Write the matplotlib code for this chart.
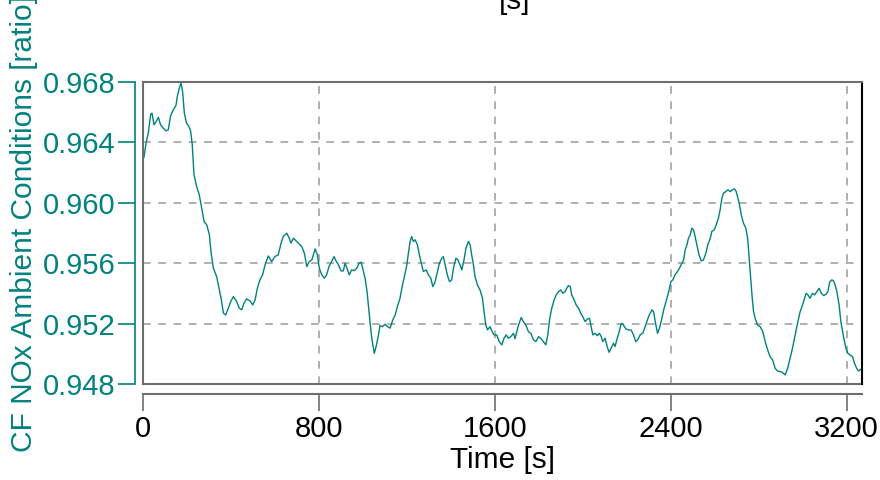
import numpy as np
import matplotlib
matplotlib.use('Agg')
import matplotlib.pyplot as plt

# time [s] and CF NOx ambient conditions
time_s = [4, 14, 24, 35, 41, 50, 62, 70, 80, 92, 105, 115, 126, 138, 150, 156, 165, 173,
          180, 188, 198, 209, 217, 224, 232, 244, 256, 267, 278, 290, 302, 309, 320, 335,
          346, 355, 366, 376, 388, 399, 411, 426, 438, 449, 459, 471, 487, 499, 510, 520,
          532, 544, 555, 570, 585, 600, 615, 628, 638, 654, 665, 673, 684, 695, 707, 722,
          734, 745, 756, 768, 783, 793, 802, 813, 825, 835, 846, 859, 869, 878, 889, 901,
          911, 919, 929, 938, 949, 961, 972, 983, 992, 999, 1010, 1019, 1028, 1037, 1043,
          1052, 1062, 1071, 1078, 1089, 1101, 1113, 1124, 1136, 1147, 1157, 1169, 1180,
          1189, 1200, 1207, 1215, 1222, 1230, 1238, 1248, 1257, 1268, 1275, 1288, 1298,
          1309, 1318, 1328, 1339, 1348, 1359, 1366, 1374, 1384, 1394, 1404, 1412, 1423,
          1432, 1442, 1450, 1460, 1469, 1480, 1488, 1495, 1503, 1510, 1521, 1533, 1544,
          1551, 1559, 1567, 1578, 1588, 1597, 1609, 1620, 1632, 1642, 1652, 1662, 1673,
          1685, 1692, 1708, 1720, 1730, 1741, 1753, 1764, 1776, 1787, 1799, 1809, 1821,
          1832, 1841, 1850, 1859, 1870, 1879, 1890, 1900, 1909, 1920, 1927, 1935, 1943,
          1950, 1961, 1970, 1981, 1991, 2000, 2011, 2022, 2031, 2038, 2046, 2056, 2067,
          2076, 2084, 2091, 2102, 2111, 2120, 2129, 2140, 2147, 2155, 2166, 2175, 2185,
          2196, 2208, 2220, 2231, 2241, 2250, 2261, 2273, 2284, 2294, 2303, 2315, 2322,
          2330, 2340, 2349, 2360, 2370, 2379, 2391, 2401, 2410, 2420, 2431, 2440, 2451,
          2459, 2466, 2474, 2481, 2489, 2496, 2504, 2511, 2519, 2529, 2539, 2549, 2560,
          2569, 2580, 2587, 2598, 2607, 2617, 2625, 2633, 2640, 2651, 2660, 2671, 2681,
          2690, 2698, 2706, 2713, 2721, 2731, 2742, 2750, 2757, 2765, 2771, 2777, 2784,
          2795, 2807, 2819, 2830, 2841, 2852, 2864, 2875, 2886, 2898, 2908, 2921, 2932,
          2943, 2954, 2966, 2977, 2989, 3000, 3009, 3016, 3024, 3034, 3045, 3054, 3065,
          3075, 3085, 3096, 3106, 3115, 3123, 3133, 3141, 3148, 3156, 3166, 3174, 3186,
          3197, 3206, 3216, 3227, 3236, 3246, 3254, 3262, 3270]
cf_nox = [0.96301, 0.96396, 0.96462, 0.96588, 0.96594, 0.96517, 0.96544, 0.96566, 0.96517,
          0.96495, 0.96477, 0.96484, 0.96579, 0.96617, 0.96645, 0.96705, 0.96760, 0.96793,
          0.96738, 0.96594, 0.96528, 0.96506, 0.96473, 0.96385, 0.96186, 0.96108, 0.96053,
          0.95965, 0.95876, 0.95854, 0.95788, 0.95677, 0.95567, 0.95512, 0.95434, 0.95368,
          0.95269, 0.95257, 0.95302, 0.95346, 0.95379, 0.95346, 0.95302, 0.95291, 0.95335,
          0.95364, 0.95350, 0.95324, 0.95357, 0.95434, 0.95490, 0.95523, 0.95589, 0.95648,
          0.95611, 0.95644, 0.95655, 0.95733, 0.95777, 0.95799, 0.95766, 0.95733, 0.95766,
          0.95750, 0.95733, 0.95711, 0.95666, 0.95578, 0.95611, 0.95622, 0.95695, 0.95655,
          0.95567, 0.95523, 0.95501, 0.95523, 0.95578, 0.95615, 0.95644, 0.95615, 0.95589,
          0.95549, 0.95549, 0.95600, 0.95562, 0.95523, 0.95556, 0.95551, 0.95567, 0.95600,
          0.95607, 0.95567, 0.95501, 0.95412, 0.95280, 0.95147, 0.95081, 0.95003, 0.95059,
          0.95125, 0.95187, 0.95180, 0.95196, 0.95180, 0.95170, 0.95224, 0.95258, 0.95313,
          0.95368, 0.95456, 0.95512, 0.95589, 0.95666, 0.95744, 0.95777, 0.95744, 0.95755,
          0.95722, 0.95655, 0.95589, 0.95545, 0.95556, 0.95523, 0.95501, 0.95445, 0.95474,
          0.95545, 0.95600, 0.95633, 0.95644, 0.95589, 0.95523, 0.95478, 0.95490, 0.95567,
          0.95633, 0.95622, 0.95589, 0.95556, 0.95622, 0.95700, 0.95744, 0.95722, 0.95655,
          0.95589, 0.95512, 0.95456, 0.95423, 0.95368, 0.95280, 0.95191, 0.95158, 0.95180,
          0.95147, 0.95125, 0.95125, 0.95081, 0.95059, 0.95103, 0.95125, 0.95103, 0.95114,
          0.95136, 0.95100, 0.95191, 0.95240, 0.95213, 0.95191, 0.95147, 0.95136, 0.95092,
          0.95081, 0.95114, 0.95103, 0.95081, 0.95059, 0.95125, 0.95235, 0.95302, 0.95357,
          0.95390, 0.95412, 0.95423, 0.95401, 0.95412, 0.95434, 0.95452, 0.95445, 0.95390,
          0.95357, 0.95324, 0.95302, 0.95269, 0.95246, 0.95213, 0.95231, 0.95235, 0.95180,
          0.95125, 0.95136, 0.95120, 0.95136, 0.95114, 0.95081, 0.95103, 0.95048, 0.95010,
          0.95037, 0.95070, 0.95048, 0.95092, 0.95147, 0.95202, 0.95191, 0.95165, 0.95158,
          0.95158, 0.95125, 0.95081, 0.95092, 0.95125, 0.95136, 0.95180, 0.95224, 0.95258,
          0.95291, 0.95280, 0.95213, 0.95136, 0.95169, 0.95235, 0.95302, 0.95346, 0.95412,
          0.95478, 0.95490, 0.95523, 0.95545, 0.95567, 0.95600, 0.95622, 0.95688, 0.95722,
          0.95766, 0.95788, 0.95832, 0.95821, 0.95777, 0.95722, 0.95655, 0.95615, 0.95622,
          0.95666, 0.95722, 0.95766, 0.95810, 0.95821, 0.95854, 0.95898, 0.95954, 0.96031,
          0.96064, 0.96075, 0.96086, 0.96075, 0.96086, 0.96093, 0.96075, 0.96031, 0.95987,
          0.95921, 0.95865, 0.95832, 0.95766, 0.95633, 0.95478, 0.95368, 0.95280, 0.95235,
          0.95191, 0.95180, 0.95147, 0.95081, 0.95026, 0.94981, 0.94959, 0.94904, 0.94886,
          0.94882, 0.94877, 0.94860, 0.94904, 0.94970, 0.95037, 0.95125, 0.95202, 0.95280,
          0.95324, 0.95368, 0.95401, 0.95390, 0.95368, 0.95401, 0.95390, 0.95412, 0.95434,
          0.95401, 0.95386, 0.95394, 0.95412, 0.95474, 0.95490, 0.95483, 0.95456, 0.95412,
          0.95324, 0.95213, 0.95114, 0.95037, 0.95003, 0.94992, 0.94981, 0.94937, 0.94904,
          0.94886, 0.94893, 0.94904]

x_ticks = [0, 800, 1600, 2400, 3200]
y_ticks = [0.948, 0.952, 0.956, 0.960, 0.964, 0.968]

teal = '#00827f'
frame_grey = '#6e6e6e'

plt.rcParams['font.family'] = ['Liberation Sans', 'DejaVu Sans']

fig = plt.figure(figsize=(8.8, 4.8), dpi=100)
ax = fig.add_axes([0.1625, 0.2, 0.8170, 0.629])

ax.plot(time_s, cf_nox, color=teal, linewidth=1.0)

ax.set_xlim(0, 3270)
ax.set_ylim(0.948, 0.968)
ax.set_xticks(x_ticks)
ax.set_yticks(y_ticks)
ax.set_yticklabels(['%.3f' % v for v in y_ticks])

ax.grid(True, color='#9a9a9a', linestyle=(0, (5, 5)), linewidth=1.1)

# offset axes
ax.spines['left'].set_position(('outward', 6))
ax.spines['left'].set_bounds(0.948, 0.968)
ax.spines['left'].set_color(teal)
ax.spines['left'].set_linewidth(1.2)
ax.spines['bottom'].set_position(('outward', 7))
ax.spines['bottom'].set_color(frame_grey)
ax.spines['bottom'].set_linewidth(1.5)
ax.spines['top'].set_color(frame_grey)
ax.spines['top'].set_linewidth(1.5)
ax.spines['right'].set_color('black')
ax.spines['right'].set_linewidth(1.5)

# plot area frame on left and bottom
ax.plot([0, 0], [0, 1], transform=ax.transAxes, color=frame_grey, linewidth=1.5, clip_on=False)
ax.plot([0, 1], [0, 0], transform=ax.transAxes, color=frame_grey, linewidth=1.5, clip_on=False)

ax.tick_params(axis='y', colors=teal, labelsize=21, length=12, width=1.2, pad=2)
ax.tick_params(axis='x', colors=frame_grey, labelcolor='black', labelsize=21, length=12, width=1.2, pad=3)

ax.set_ylabel('CF NOx Ambient Conditions [ratio]', color=teal, fontsize=21.5)
ax.yaxis.set_label_coords(-0.146, 0.53)
ax.set_xlabel('Time [s]', fontsize=21.5)
ax.xaxis.set_label_coords(0.5, -0.205)

fig.text(0.585, 0.997, '[s]', fontsize=21.5, ha='center', va='center')

fig.savefig('out.png', dpi=100)
